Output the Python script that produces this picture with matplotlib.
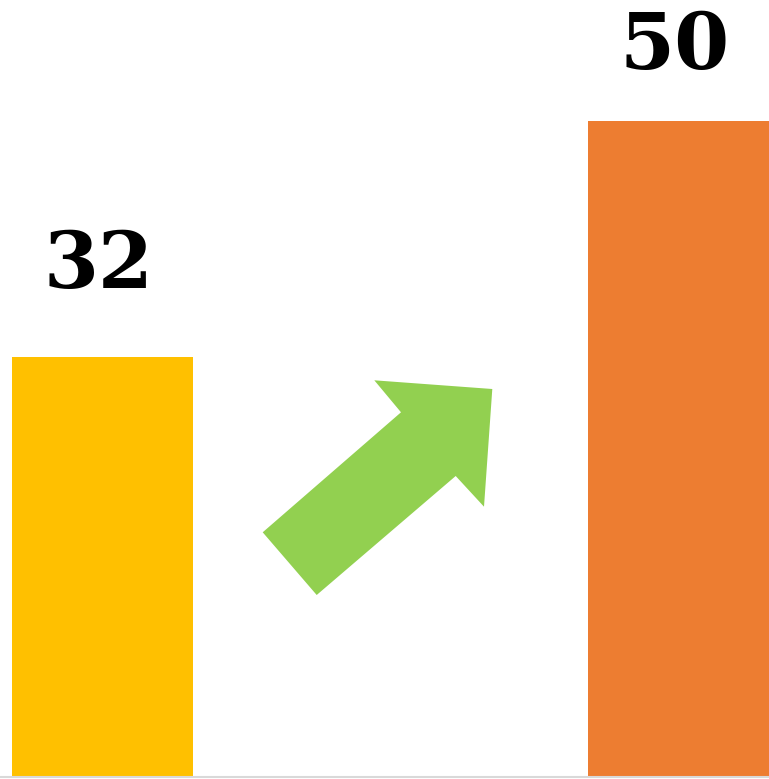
import matplotlib
matplotlib.use("Agg")
import matplotlib.pyplot as plt
from matplotlib.patches import Polygon
from matplotlib.transforms import offset_copy

categories = ["Before", "After"]
values = [32, 50]
colors = ["#FFC000", "#ED7D31"]
label_offsets_px = [91, 74]

W, H = 769, 779
fig = plt.figure(figsize=(W / 100, H / 100), dpi=100)
bottom_px = 777
ax = fig.add_axes([0, (H - bottom_px) / H, 1, bottom_px / H])

x = list(range(len(categories)))
ax.bar(x, values, width=0.314, color=colors, zorder=1)

spacing_px = 576.5
ax.set_xlim(-102.5 / spacing_px, (W - 102.5) / spacing_px)
ax.set_ylim(0, 50 * bottom_px / 656)

for s in ["top", "left", "right"]:
    ax.spines[s].set_visible(False)
ax.spines["bottom"].set_color("#d9d9d9")
ax.spines["bottom"].set_linewidth(1.5)
ax.spines["bottom"].set_zorder(3)
ax.set_xticks([])
ax.set_yticks([])

for xi, v, off in zip(x, values, label_offsets_px):
    tr = offset_copy(ax.transData, fig=fig, x=-4, y=off, units="dots")
    ax.text(xi, v, str(v), transform=tr, ha="center", va="center",
            fontsize=57, fontweight="heavy", family="DejaVu Serif", color="black")

# decorative arrow
pts = [(262.7, 532.3), (316.7, 595), (455.7, 476), (484, 506.7),
       (492.3, 389), (374.3, 380.3), (401, 412.3)]
poly = Polygon([(px / W, 1 - py / H) for px, py in pts], closed=True,
               transform=fig.transFigure, facecolor="#92D050", edgecolor="none")
fig.patches.append(poly)

fig.savefig("out.png", dpi=100)
